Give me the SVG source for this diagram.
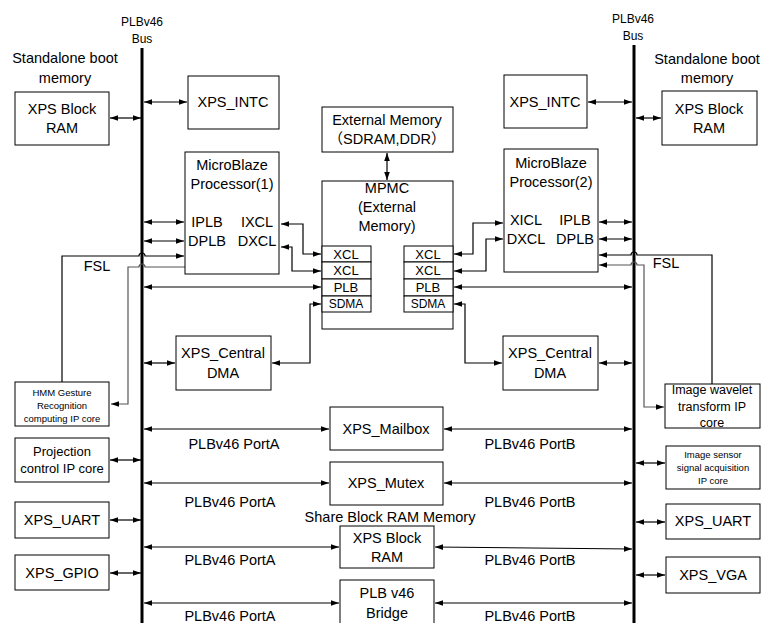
<svg xmlns="http://www.w3.org/2000/svg" width="773" height="623" viewBox="0 0 773 623">
<style>
text{font-family:"Liberation Sans",Arial,sans-serif;font-size:14.5px;fill:#000;text-anchor:middle}
.s{font-size:12px}
.xs{font-size:9.5px}
.w{font-size:13px}
.p{font-size:12.5px}
rect{fill:#fff;stroke:#000;stroke-width:1}
.c line,.c path{fill:none;stroke:#000;stroke-width:1.2}
.g{stroke:#555 !important}
.bi{marker-start:url(#a);marker-end:url(#a)}
.en{marker-end:url(#a)}
.bus{stroke-width:3 !important}
</style>
<defs>
<marker id="a" viewBox="0 0 10 10" refX="10" refY="5" markerWidth="8" markerHeight="8" orient="auto-start-reverse" markerUnits="userSpaceOnUse"><path d="M0,1.5 L10,5 L0,8.5 z" fill="#000"/></marker>
</defs>
<g id="labels">
<text class="s" x="142" y="26">PLBv46</text>
<text class="s" x="142" y="43">Bus</text>
<text class="s" x="633" y="23">PLBv46</text>
<text class="s" x="633" y="40">Bus</text>
<text x="65" y="63">Standalone boot</text>
<text x="65" y="83">memory</text>
<text x="707" y="64">Standalone boot</text>
<text x="707" y="83">memory</text>
<text x="97" y="271">FSL</text>
<text x="666" y="268">FSL</text>
<text x="234" y="449">PLBv46 PortA</text>
<text x="530" y="449">PLBv46 PortB</text>
<text x="230" y="507">PLBv46 PortA</text>
<text x="530" y="507">PLBv46 PortB</text>
<text x="390" y="522">Share Block RAM Memory</text>
<text x="230" y="565">PLBv46 PortA</text>
<text x="530" y="565">PLBv46 PortB</text>
<text x="230" y="621">PLBv46 PortA</text>
<text x="530" y="621">PLBv46 PortB</text>
</g>
<g class="c" id="connectors">
<line class="bus" x1="142" y1="48" x2="142" y2="623"/>
<line class="bus" x1="634" y1="45" x2="634" y2="623"/>
<line class="bi" x1="110" y1="118" x2="141" y2="118"/>
<line class="bi" x1="144" y1="102" x2="187" y2="102"/>
<line class="bi" x1="144" y1="222" x2="184" y2="222"/>
<line class="bi" x1="144" y1="241" x2="184" y2="241"/>
<path class="en" d="M62,382 V256 H139 A3,3 0 0 1 145,256 H184"/>
<path class="en g" d="M185,267 H145 A3,3 0 0 0 139,267 H128 V404 H111"/>
<line class="bi" x1="144" y1="287" x2="321" y2="287"/>
<path class="bi" d="M281,224 H303 V254 H321"/>
<path class="bi" d="M281,247 H292 V271 H321"/>
<path class="bi" d="M321,304 H310 V363 H272"/>
<line class="bi" x1="144" y1="363" x2="175" y2="363"/>
<line class="bi" x1="387" y1="153" x2="387" y2="180"/>
<line class="bi" x1="144" y1="429" x2="329" y2="429"/>
<line class="bi" x1="444" y1="429" x2="632" y2="429"/>
<line class="bi" x1="144" y1="483" x2="329" y2="483"/>
<line class="bi" x1="444" y1="483" x2="632" y2="483"/>
<line class="bi" x1="144" y1="547" x2="339" y2="547"/>
<line class="bi" x1="435" y1="547" x2="632" y2="549"/>
<line class="bi" x1="144" y1="603" x2="339" y2="603"/>
<line class="bi" x1="435" y1="603" x2="632" y2="603"/>
<line class="bi" x1="110" y1="460" x2="141" y2="460"/>
<line class="bi" x1="110" y1="520" x2="141" y2="520"/>
<line class="bi" x1="110" y1="573" x2="141" y2="573"/>
<line class="bi" x1="588" y1="102" x2="632" y2="102"/>
<line class="bi" x1="636" y1="118" x2="661" y2="118"/>
<line class="bi" x1="599" y1="222" x2="632" y2="222"/>
<line class="bi" x1="599" y1="239" x2="632" y2="239"/>
<path class="en" d="M712,384 V255 H637 A3,3 0 0 0 631,255 H599"/>
<path class="bi g" d="M599,265 H631 A3,3 0 0 1 637,265 H644 V407 H664"/>
<path class="bi" d="M503,223 H473 V254 H454"/>
<path class="bi" d="M503,239 H486 V271 H454"/>
<line class="bi" x1="454" y1="287" x2="632" y2="287"/>
<path class="bi" d="M454,304 H465 V363 H502"/>
<line class="bi" x1="599" y1="363" x2="632" y2="363"/>
<line class="bi" x1="636" y1="463" x2="665" y2="463"/>
<line class="bi" x1="636" y1="522" x2="665" y2="522"/>
<line class="bi" x1="636" y1="575" x2="665" y2="575"/>
</g>
<g id="bram-l"><rect x="15" y="92" width="94" height="53"/><text x="62" y="114">XPS Block</text><text x="62" y="133">RAM</text></g>
<g id="intc-l"><rect x="188" y="76" width="91" height="53"/><text x="233" y="107">XPS_INTC</text></g>
<g id="mb1"><rect x="185" y="152" width="94" height="122"/><text x="232" y="170">MicroBlaze</text><text x="232" y="189">Processor(1)</text><text x="207" y="227">IPLB</text><text x="207" y="246">DPLB</text><text x="257" y="227">IXCL</text><text x="257" y="246">DXCL</text></g>
<g id="extmem"><rect x="322" y="107" width="131" height="45"/><text x="387" y="125">External Memory</text><text x="387" y="144" style="font-family:'Liberation Sans','Noto Sans CJK SC',sans-serif">（SDRAM,DDR）</text></g>
<g id="mpmc"><rect x="322" y="181" width="131" height="148"/><text x="387" y="193">MPMC</text><text x="387" y="212">(External</text><text x="387" y="231">Memory)</text>
<rect x="322" y="246" width="49" height="16"/><rect x="322" y="262" width="49" height="17"/><rect x="322" y="279" width="49" height="17"/><rect x="322" y="296" width="49" height="16"/>
<text class="w" x="346" y="259">XCL</text><text class="w" x="346" y="275">XCL</text><text class="w" x="346" y="292">PLB</text><text class="s" x="346" y="308">SDMA</text>
<rect x="404" y="246" width="49" height="16"/><rect x="404" y="262" width="49" height="17"/><rect x="404" y="279" width="49" height="17"/><rect x="404" y="296" width="49" height="16"/>
<text class="w" x="428" y="259">XCL</text><text class="w" x="428" y="275">XCL</text><text class="w" x="428" y="292">PLB</text><text class="s" x="428" y="308">SDMA</text></g>
<g id="intc-r"><rect x="504" y="75" width="83" height="53"/><text x="545" y="107">XPS_INTC</text></g>
<g id="bram-r"><rect x="662" y="91" width="95" height="54"/><text x="709" y="114">XPS Block</text><text x="709" y="133">RAM</text></g>
<g id="mb2"><rect x="504" y="149" width="94" height="123"/><text x="551" y="168">MicroBlaze</text><text x="551" y="187">Processor(2)</text><text x="526" y="225">XICL</text><text x="526" y="244">DXCL</text><text x="575" y="225">IPLB</text><text x="575" y="244">DPLB</text></g>
<g id="dma-l"><rect x="176" y="336" width="95" height="54"/><text x="223" y="358">XPS_Central</text><text x="223" y="378">DMA</text></g>
<g id="dma-r"><rect x="503" y="336" width="95" height="54"/><text x="550" y="358">XPS_Central</text><text x="550" y="378">DMA</text></g>
<g id="hmm"><rect x="15" y="382" width="94" height="44"/><text class="xs" x="62" y="396">HMM Gesture</text><text class="xs" x="62" y="409">Recognition</text><text class="xs" x="62" y="422">computing IP core</text></g>
<g id="wavelet"><rect x="665" y="384" width="95" height="44"/><text class="p" x="712" y="394">Image wavelet</text><text class="p" x="712" y="411">transform IP</text><text class="p" x="712" y="427">core</text></g>
<g id="mailbox"><rect x="330" y="407" width="113" height="43"/><text x="386" y="434">XPS_Mailbox</text></g>
<g id="mutex"><rect x="330" y="462" width="113" height="43"/><text x="386" y="488">XPS_Mutex</text></g>
<g id="bram-m"><rect x="340" y="526" width="94" height="42"/><text x="387" y="543">XPS Block</text><text x="387" y="562">RAM</text></g>
<g id="bridge"><rect x="340" y="580" width="94" height="50"/><text x="387" y="598">PLB v46</text><text x="387" y="618">Bridge</text></g>
<g id="proj"><rect x="15" y="438" width="94" height="44"/><text class="w" x="62" y="456">Projection</text><text class="w" x="62" y="473">control IP core</text></g>
<g id="uart-l"><rect x="15" y="502" width="94" height="36"/><text x="62" y="525">XPS_UART</text></g>
<g id="gpio"><rect x="15" y="555" width="94" height="35"/><text x="62" y="578">XPS_GPIO</text></g>
<g id="sensor"><rect x="666" y="446" width="94" height="43"/><text class="xs" x="713" y="458">Image sensor</text><text class="xs" x="713" y="471">signal acquisition</text><text class="xs" x="713" y="484">IP core</text></g>
<g id="uart-r"><rect x="666" y="504" width="94" height="35"/><text x="713" y="526">XPS_UART</text></g>
<g id="vga"><rect x="666" y="557" width="94" height="36"/><text x="713" y="580">XPS_VGA</text></g>
</svg>
